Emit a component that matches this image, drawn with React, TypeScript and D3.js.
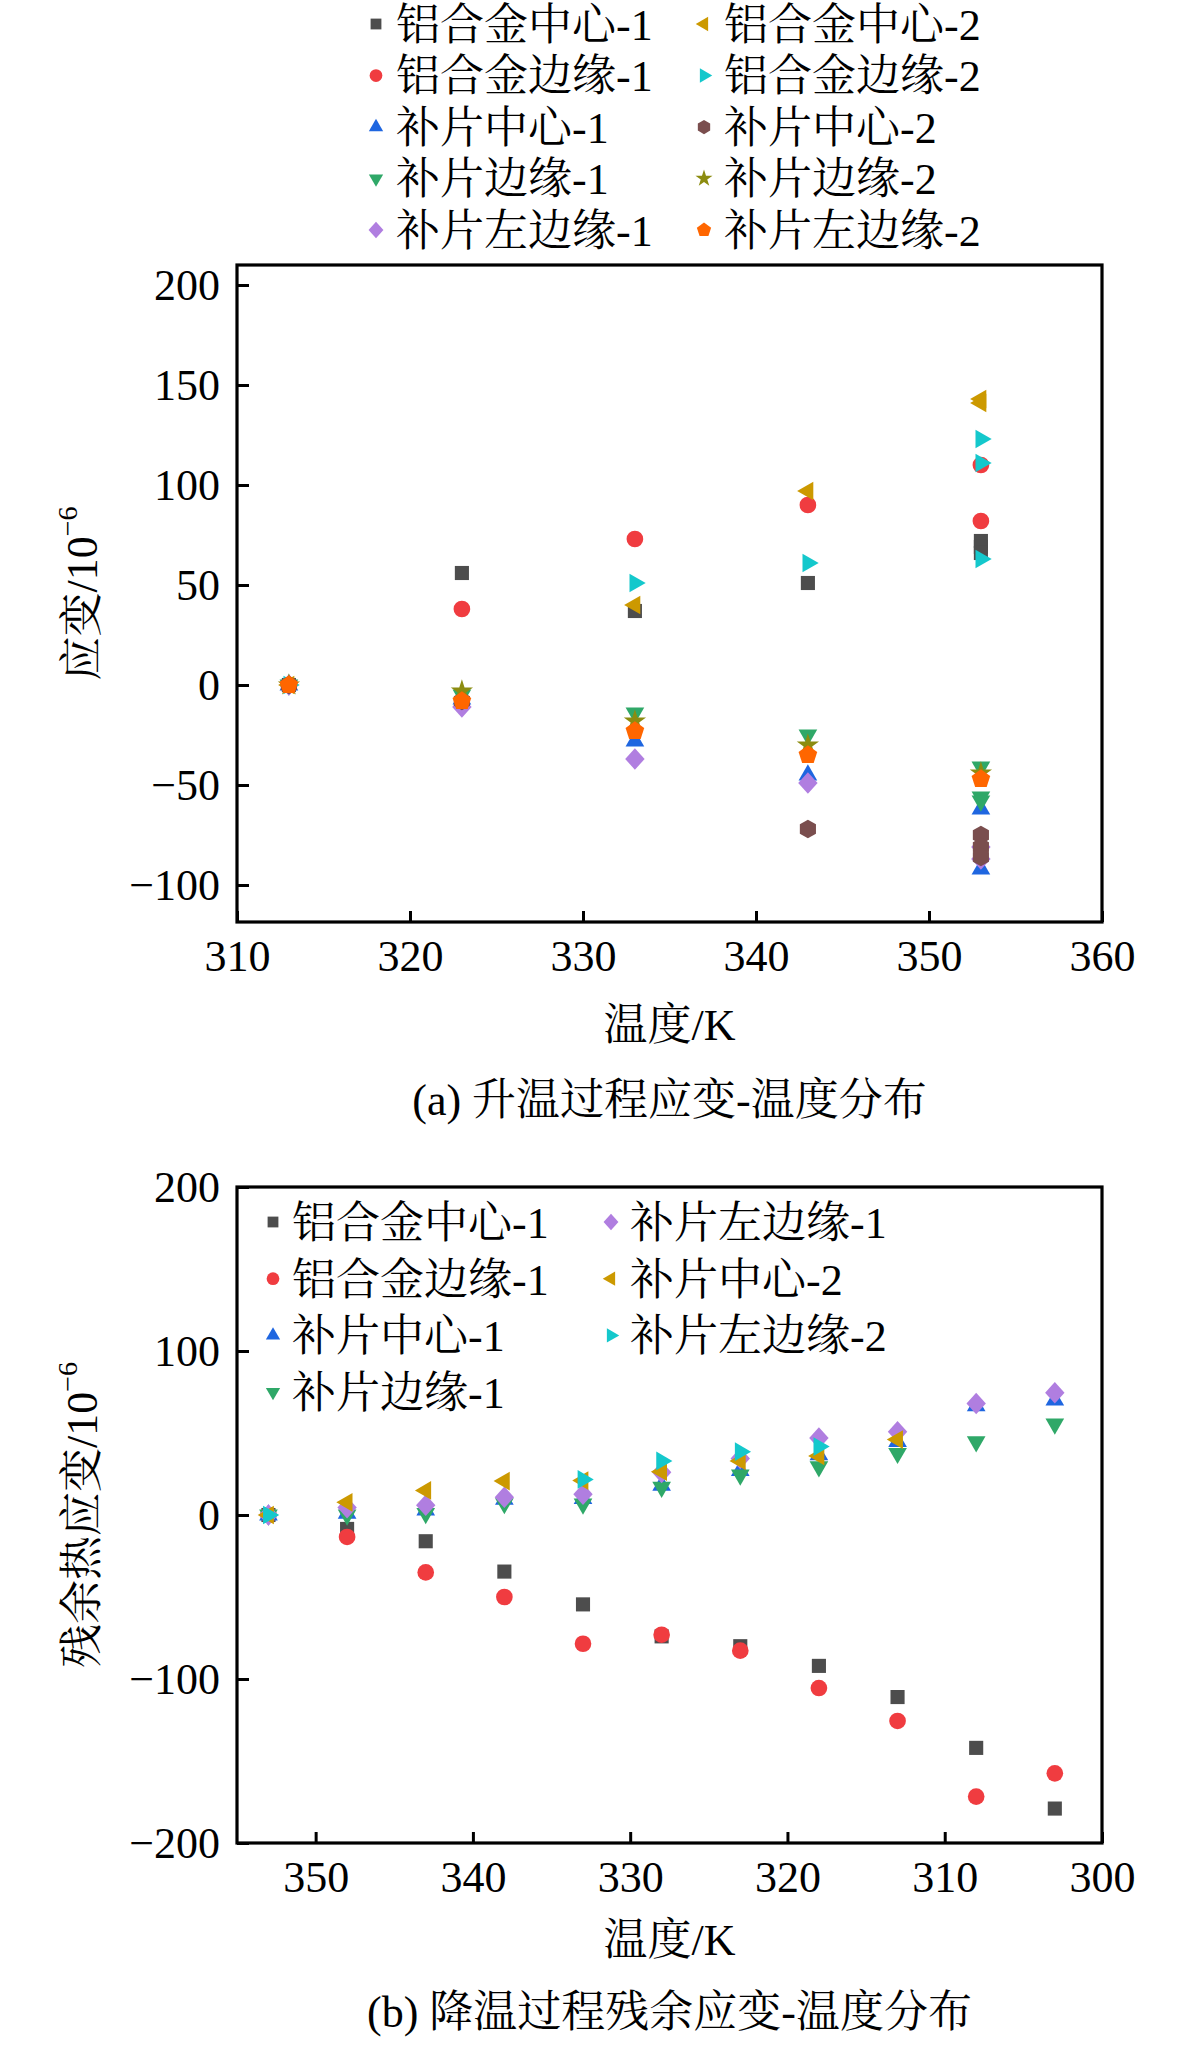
import * as d3 from 'd3';
import { useEffect, useRef } from 'react';

const W = 1181;
const H = 2048;
const FONT = "'Liberation Serif', 'Times New Roman', 'Noto Serif CJK SC', 'Noto Sans CJK SC', serif";

// (a) heating: [temperature K, strain 1e-6]; 353 K holds repeated readings
const heatAlCenter1 = [[313, 0], [323, 56], [333, 37], [343, 51], [353, 72], [353, 69], [353, 66]];
const heatAlEdge1 = [[313, 0], [323, 38], [333, 73], [343, 90], [353, 110], [353, 82]];
const heatPatchCenter1 = [[313, 0], [323, -7], [333, -28], [343, -45], [353, -62], [353, -92]];
const heatPatchEdge1 = [[313, 0], [323, -5], [333, -14], [343, -25], [353, -41], [353, -56], [353, -58]];
const heatPatchLeft1 = [[313, 0], [323, -11], [333, -37], [343, -49], [353, -81], [353, -87]];
const heatAlCenter2 = [[313, 0], [333, 40], [343, 97], [353, 143], [353, 141]];
const heatAlEdge2 = [[313, 0], [333, 51], [343, 61], [353, 123], [353, 111], [353, 63]];
const heatPatchCenter2 = [[313, 0], [323, -8], [343, -72], [353, -75], [353, -81], [353, -86]];
const heatPatchEdge2 = [[313, 0], [323, -3], [333, -18], [343, -30], [353, -44]];
const heatPatchLeft2 = [[313, 0], [323, -8], [333, -23], [343, -35], [353, -47]];

// (b) cooling: residual strain at each temperature step (null = no reading)
const coolTemps = [353, 348, 343, 338, 333, 328, 323, 318, 313, 308, 303];
const coolAlCenter1 = [0, -8.5, -16, -34.5, -54.5, -74, -80, -92, -111, -142, -179];
const coolAlEdge1 = [0, -13.4, -35, -50, -78.5, -73, -82.7, -105.5, -125.6, -171.7, -157.5];
const coolPatchCenter1 = [0, 1, 3, 9.5, 10, 18, 27, 36.6, 44.7, 66.5, 70];
const coolPatchEdge1 = [0, 0, 1, 7, 6.7, 17, 24.4, 29.5, 37.6, 44.7, 55.5];
const coolPatchLeft1 = [0, 4.5, 6, 10.8, 12.6, 26, 34.5, 47, 50.8, 68, 74.6];
const coolPatchCenter2 = [0, 7.7, 15, 20.7, 21, 26.4, 33, 36, 46, null, null];
const coolPatchLeft2 = [0, null, null, null, 21.7, 33, 38.6, 41.7, null, null, null];

const heatTicksX = [310, 320, 330, 340, 350, 360];
const heatTicksY = [-100, -50, 0, 50, 100, 150, 200];
const coolTicksX = [350, 340, 330, 320, 310, 300];
const coolTicksY = [-200, -100, 0, 100, 200];

const heatSeries = [
  { name: '铝合金中心-1', shape: 'square', color: '#4d4d4d', data: heatAlCenter1 },
  { name: '铝合金边缘-1', shape: 'circle', color: '#f03c40', data: heatAlEdge1 },
  { name: '补片中心-1', shape: 'up', color: '#1f66e0', data: heatPatchCenter1 },
  { name: '补片边缘-1', shape: 'down', color: '#2fa868', data: heatPatchEdge1 },
  { name: '补片左边缘-1', shape: 'diamond', color: '#b07ee0', data: heatPatchLeft1 },
  { name: '铝合金中心-2', shape: 'left', color: '#cc9900', data: heatAlCenter2 },
  { name: '铝合金边缘-2', shape: 'right', color: '#14c8cc', data: heatAlEdge2 },
  { name: '补片中心-2', shape: 'hexagon', color: '#7a4e4e', data: heatPatchCenter2 },
  { name: '补片边缘-2', shape: 'star', color: '#8c8c10', data: heatPatchEdge2 },
  { name: '补片左边缘-2', shape: 'pentagon', color: '#ff6600', data: heatPatchLeft2 },
];

const pairs = (vals) =>
  coolTemps.map((t, i) => [t, vals[i]]).filter((d) => d[1] !== null);

const coolSeries = [
  { name: '铝合金中心-1', shape: 'square', color: '#4d4d4d', data: pairs(coolAlCenter1) },
  { name: '铝合金边缘-1', shape: 'circle', color: '#f03c40', data: pairs(coolAlEdge1) },
  { name: '补片中心-1', shape: 'up', color: '#1f66e0', data: pairs(coolPatchCenter1) },
  { name: '补片边缘-1', shape: 'down', color: '#2fa868', data: pairs(coolPatchEdge1) },
  { name: '补片左边缘-1', shape: 'diamond', color: '#b07ee0', data: pairs(coolPatchLeft1) },
  { name: '补片中心-2', shape: 'left', color: '#cc9900', data: pairs(coolPatchCenter2) },
  { name: '补片左边缘-2', shape: 'right', color: '#14c8cc', data: pairs(coolPatchLeft2) },
];

const closed = d3.line().curve(d3.curveLinearClosed);

const poly = (n, r, rot, sx = 1, sy = 1) =>
  closed(
    d3.range(n).map((i) => {
      const a = rot + (i * 2 * Math.PI) / n;
      return [Math.cos(a) * r * sx, Math.sin(a) * r * sy];
    }),
  );

const markerPath = (shape, s) => {
  switch (shape) {
    case 'square':
      return `M${-s * 0.72},${-s * 0.72}h${s * 1.44}v${s * 1.44}h${-s * 1.44}Z`;
    case 'circle':
      return d3.symbol(d3.symbolCircle, Math.PI * (s * 0.85) ** 2)();
    case 'up':
      return poly(3, s * 1.1, -Math.PI / 2);
    case 'down':
      return poly(3, s * 1.1, Math.PI / 2);
    case 'left':
      return poly(3, s * 1.1, Math.PI);
    case 'right':
      return poly(3, s * 1.1, 0);
    case 'diamond':
      return poly(4, s * 1.1, -Math.PI / 2, 0.9, 1);
    case 'hexagon':
      return poly(6, s * 0.95, -Math.PI / 2);
    case 'pentagon':
      return poly(5, s * 1.0, -Math.PI / 2);
    default:
      return d3.symbol(d3.symbolStar, s * s * 1.6)();
  }
};

const drawPanel = (svg, p) => {
  const { x, y } = p;
  const [left, right] = x.range();
  const [bottom, top] = y.range();
  const g = svg.append('g').attr('font-family', FONT).attr('font-size', 44);

  g.append('g')
    .attr('transform', `translate(${left},0)`)
    .call(d3.axisLeft(y).tickValues(p.ticksY).tickSize(-12).tickPadding(17))
    .call((a) => a.select('.domain').remove())
    .call((a) => a.selectAll('line').attr('stroke-width', 3).attr('stroke', '#000'))
    .call((a) => a.selectAll('text').attr('fill', '#000'))
    .attr('font-size', 44)
    .attr('font-family', FONT);

  g.append('g')
    .attr('transform', `translate(0,${bottom})`)
    .call(d3.axisBottom(x).tickValues(p.ticksX).tickSize(-11).tickPadding(18))
    .call((a) => a.select('.domain').remove())
    .call((a) => a.selectAll('line').attr('stroke-width', 3).attr('stroke', '#000'))
    .call((a) => a.selectAll('text').attr('fill', '#000'))
    .attr('font-size', 44)
    .attr('font-family', FONT);

  g.append('rect')
    .attr('x', left)
    .attr('y', top)
    .attr('width', right - left)
    .attr('height', bottom - top)
    .attr('fill', 'none')
    .attr('stroke', '#000')
    .attr('stroke-width', 3.2);

  p.series.forEach((s) => {
    g.append('g')
      .selectAll('path')
      .data(s.data)
      .join('path')
      .attr('transform', (d) => `translate(${x(d[0])},${y(d[1])})`)
      .attr('d', markerPath(s.shape, 9.8))
      .attr('fill', s.color);
  });

  p.legend.forEach((s, i) => {
    const col = i < p.legendRows ? 0 : 1;
    const row = i % p.legendRows;
    const cy = p.legendY + row * p.legendStep;
    g.append('path')
      .attr('transform', `translate(${p.legendX[col]},${cy})`)
      .attr('d', markerPath(s.shape, 7.5))
      .attr('fill', s.color);
    g.append('text')
      .attr('x', p.legendX[col] + p.legendGap)
      .attr('y', cy)
      .attr('dy', '0.36em')
      .text(s.name);
  });

  g.append('text')
    .attr('x', (left + right) / 2)
    .attr('y', p.xTitleY)
    .attr('text-anchor', 'middle')
    .text('温度/K');

  const yt = g
    .append('text')
    .attr('transform', `translate(${p.yTitleX},${(top + bottom) / 2}) rotate(-90)`)
    .attr('text-anchor', 'middle')
    .attr('dy', '0.36em');
  yt.append('tspan').text(p.yTitle + '/10');
  yt.append('tspan').attr('font-size', 28).attr('dy', '-0.7em').text('−6');

  g.append('text')
    .attr('x', (left + right) / 2)
    .attr('y', p.titleY)
    .attr('text-anchor', 'middle')
    .text(p.title);
};

const App = () => {
  const ref = useRef(null);

  useEffect(() => {
    const svg = d3.select(ref.current);
    svg.selectAll('*').remove();

    const heatX = d3.scaleLinear().domain([310, 360]).range([237, 1102]);
    const heatY = d3.scaleLinear().domain([-118.5, 210]).range([922, 265]);
    drawPanel(svg, {
      x: heatX,
      y: heatY,
      ticksX: heatTicksX,
      ticksY: heatTicksY,
      series: heatSeries,
      legend: heatSeries,
      legendRows: 5,
      legendX: [376, 704],
      legendGap: 20,
      legendY: 24,
      legendStep: 51.5,
      xTitleY: 1040,
      titleY: 1115,
      yTitle: '应变',
      yTitleX: 81,
      title: '(a) 升温过程应变-温度分布',
    });

    const coolX = d3.scaleLinear().domain([355, 300]).range([237, 1102]);
    const coolY = d3.scaleLinear().domain([-200, 200]).range([1843, 1187]);
    drawPanel(svg, {
      x: coolX,
      y: coolY,
      ticksX: coolTicksX,
      ticksY: coolTicksY,
      series: coolSeries,
      legend: coolSeries,
      legendRows: 4,
      legendX: [273, 611],
      legendGap: 19,
      legendY: 1222,
      legendStep: 56.7,
      xTitleY: 1955,
      titleY: 2027,
      yTitle: '残余热应变',
      yTitleX: 81,
      title: '(b) 降温过程残余应变-温度分布',
    });
  }, []);

  return (
    <svg
      ref={ref}
      width={W}
      height={H}
      viewBox={`0 0 ${W} ${H}`}
      style={{ position: 'absolute', left: 0, top: 0, background: '#fff' }}
    />
  );
};

export default App;
